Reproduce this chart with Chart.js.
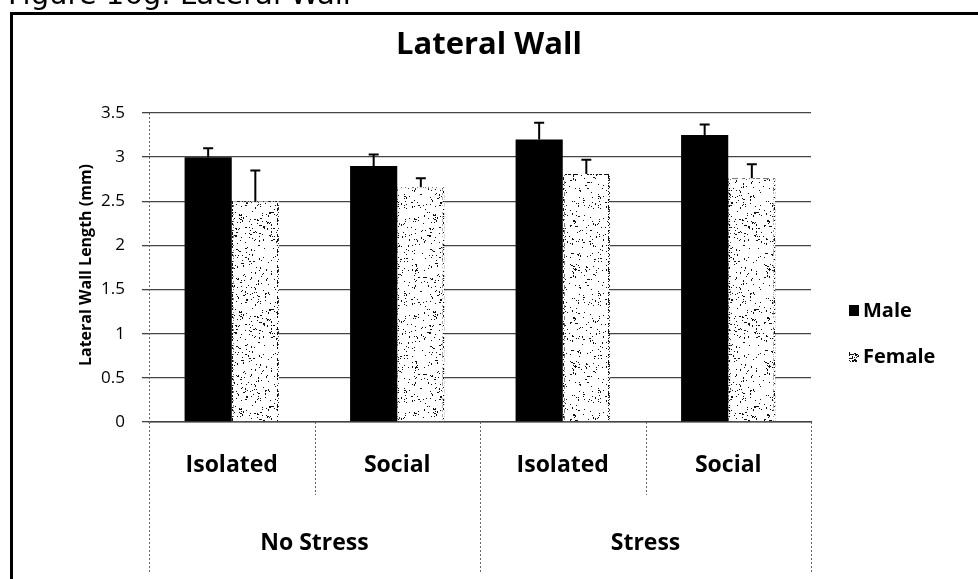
<!DOCTYPE html>
<html>
<head>
<meta charset="utf-8">
<script src="https://cdn.jsdelivr.net/npm/chart.js@4/dist/chart.umd.min.js"></script>
<style>
  html, body { margin: 0; padding: 0; background: #fff; }
  #wrap { width: 978px; height: 579px; position: relative; }
</style>
</head>
<body>
<div id="wrap"><canvas id="chart" width="978" height="579"></canvas></div>
<script>
// datos
const categorias = ["Isolated", "Social", "Isolated", "Social"];
const grupos = ["No Stress", "Stress"];
const machoValores = [3.0, 2.9, 3.2, 3.25];
const machoError = [0.10, 0.13, 0.19, 0.12];
const hembraValores = [2.5, 2.66, 2.81, 2.76];
const hembraError = [0.35, 0.10, 0.16, 0.16];
const yTicks = [0, 0.5, 1, 1.5, 2, 2.5, 3, 3.5];

const FONT = "'Open Sans', 'DejaVu Sans', sans-serif";

// textura punteada (ruido fijo, solo estilo)
function crearPunteado(lado, densidad, semilla) {
  const c = document.createElement("canvas");
  c.width = lado; c.height = lado;
  const g = c.getContext("2d");
  g.fillStyle = "#fff";
  g.fillRect(0, 0, lado, lado);
  g.fillStyle = "#111";
  let s = semilla;
  const rnd = () => { s = (s * 1103515245 + 12345) & 0x7fffffff; return s / 0x7fffffff; };
  const n = Math.round(lado * lado * densidad);
  for (let i = 0; i < n; i++) {
    const x = Math.floor(rnd() * lado), y = Math.floor(rnd() * lado);
    g.fillRect(x, y, rnd() < 0.1 ? 2 : 1, rnd() < 0.1 ? 2 : 1);
  }
  return c;
}
const ctx = document.getElementById("chart").getContext("2d");
const punteado = ctx.createPattern(crearPunteado(97, 0.05, 12345), "repeat");
const bordePunteado = ctx.createPattern(crearPunteado(31, 0.4, 777), "repeat");

const errores = [machoError, hembraError];

const extras = {
  id: "extras",
  afterDatasetsDraw(chart) {
    const c = chart.ctx;
    c.save();
    c.strokeStyle = "#000";
    c.lineWidth = 2;
    chart.data.datasets.forEach((ds, di) => {
      const meta = chart.getDatasetMeta(di);
      meta.data.forEach((bar, i) => {
        const yTop = chart.scales.y.getPixelForValue(ds.data[i] + errores[di][i]);
        c.beginPath();
        c.moveTo(bar.x, bar.y);
        c.lineTo(bar.x, yTop);
        c.moveTo(bar.x - 5, yTop);
        c.lineTo(bar.x + 5, yTop);
        c.stroke();
      });
    });
    c.restore();
  },
  afterDraw(chart) {
    const c = chart.ctx;
    const x = chart.scales.x;
    const area = chart.chartArea;
    const paso = x.getPixelForValue(1) - x.getPixelForValue(0);
    c.save();

    // linea punteada del eje y
    c.strokeStyle = "#666";
    c.lineWidth = 1;
    c.setLineDash([2, 2]);
    c.beginPath();
    c.moveTo(Math.round(area.left) + 0.5, area.top);
    c.lineTo(Math.round(area.left) + 0.5, area.bottom);
    c.stroke();

    // divisiones punteadas bajo el eje
    for (let i = 0; i <= categorias.length; i++) {
      const px = Math.round(x.getPixelForValue(i) - paso / 2) + 0.5;
      const largo = i % 2 === 0 ? 150 : 73;
      c.beginPath();
      c.moveTo(px, area.bottom);
      c.lineTo(px, area.bottom + largo);
      c.stroke();
    }
    c.setLineDash([]);

    // etiquetas de grupo
    c.fillStyle = "#000";
    c.font = "bold 23px " + FONT;
    c.textAlign = "center";
    c.textBaseline = "middle";
    grupos.forEach((g, gi) => {
      const cx = (x.getPixelForValue(gi * 2) + x.getPixelForValue(gi * 2 + 1)) / 2;
      c.fillText(g, cx, 543);
    });

    // titulo
    c.font = "bold 31px " + FONT;
    c.fillText("Lateral Wall", 489, 45);

    // titulo eje y
    c.save();
    c.translate(86, 265);
    c.rotate(-Math.PI / 2);
    c.font = "bold 16px " + FONT;
    c.fillText("Lateral Wall Length (mm)", 0, 0);
    c.restore();

    // leyenda
    c.textAlign = "left";
    c.font = "bold 20px " + FONT;
    c.fillStyle = "#000";
    c.fillRect(849, 305, 10, 11);
    c.fillText("Male", 863, 311);
    c.fillStyle = bordePunteado;
    c.fillRect(849, 352, 10, 10);
    c.fillStyle = "#000";
    c.fillText("Female", 863, 357);

    // marco y texto de la figura
    c.fillStyle = "#000";
    c.fillRect(10, 12, 968, 3);
    c.fillRect(10, 12, 3, 567);
    c.font = "29px 'DejaVu Sans', sans-serif";
    c.textBaseline = "alphabetic";
    c.fillText("Figure 16g: Lateral Wall", 8, 4);
    c.restore();
  }
};

new Chart(ctx, {
  type: "bar",
  data: {
    labels: categorias,
    datasets: [
      { label: "Male", data: machoValores, backgroundColor: "#000", borderWidth: 0 },
      { label: "Female", data: hembraValores, backgroundColor: punteado,
        borderColor: bordePunteado, borderWidth: { left: 2, right: 2, top: 1, bottom: 0 } }
    ]
  },
  options: {
    responsive: false,
    animation: false,
    events: [],
    layout: { padding: { left: 0, top: 113, right: 167, bottom: 0 } },
    datasets: { bar: { categoryPercentage: 0.57, barPercentage: 1.0 } },
    plugins: {
      legend: { display: false },
      title: { display: false },
      tooltip: { enabled: false }
    },
    scales: {
      x: {
        afterFit: s => { s.height = 157; },
        grid: { display: false, drawTicks: false },
        border: { display: true, color: "#444", width: 1.5 },
        ticks: { color: "#000", font: { family: FONT, size: 23, weight: "bold" }, padding: 30, maxRotation: 0 }
      },
      y: {
        min: 0,
        max: 3.5,
        afterFit: s => { s.width = 149; },
        afterBuildTicks: s => { s.ticks = yTicks.map(v => ({ value: v })); },
        grid: { color: "#444", lineWidth: 1.3, tickLength: 7, tickColor: "#444" },
        border: { display: false },
        ticks: { color: "#000", font: { family: FONT, size: 17 }, padding: 17, callback: v => String(v) }
      }
    }
  },
  plugins: [extras]
});
</script>
</body>
</html>
